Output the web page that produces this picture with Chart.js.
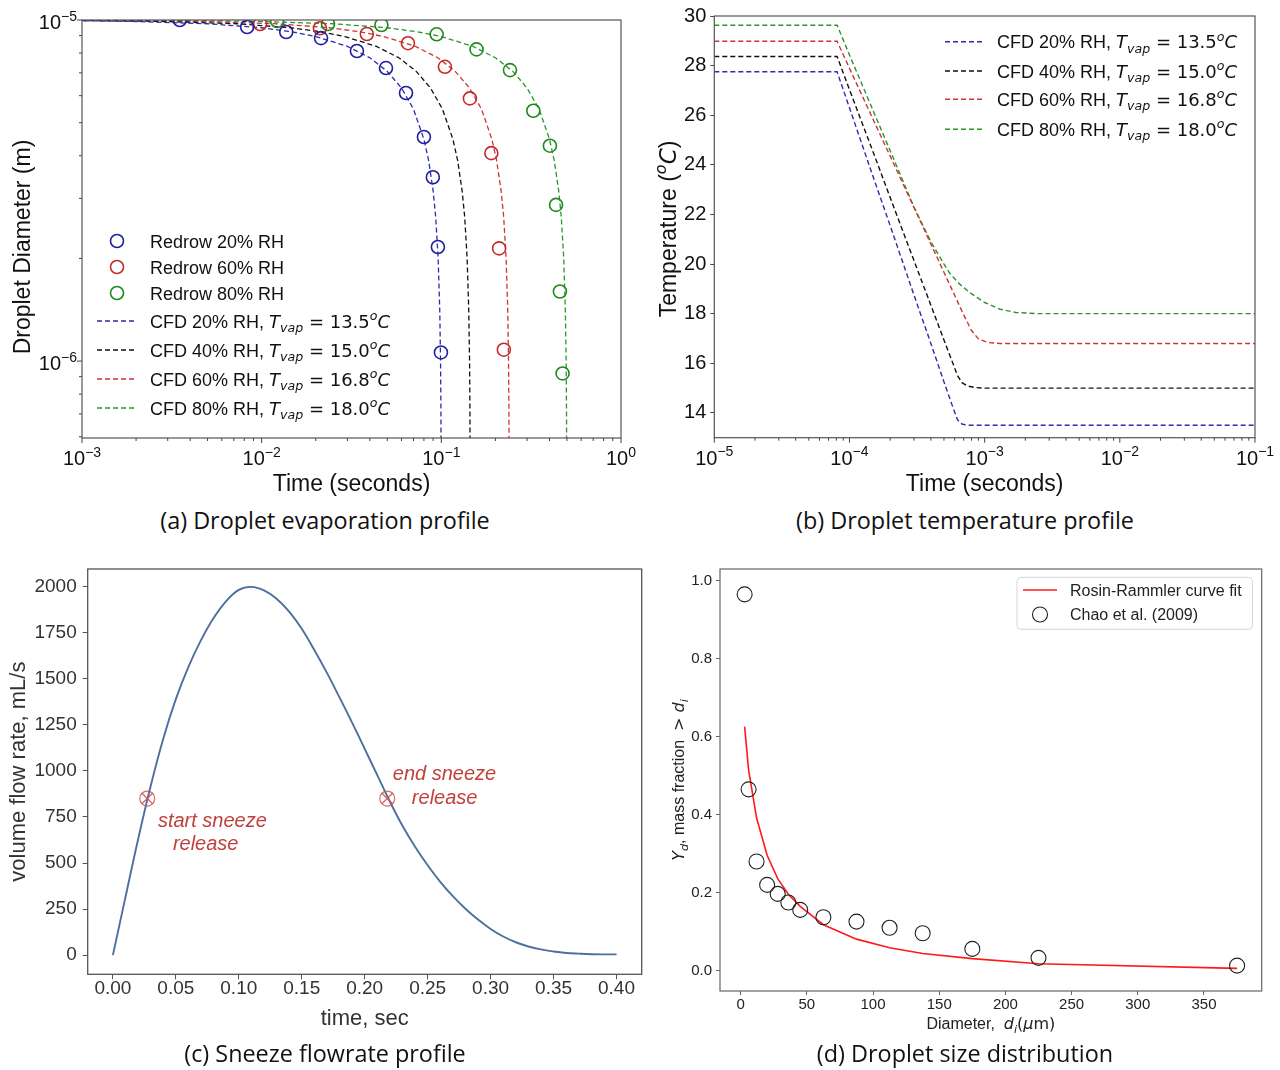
<!DOCTYPE html>
<html lang="en">
<head>
<meta charset="utf-8">
<title>Droplet evaporation, temperature, sneeze flowrate and size distribution</title>
<script src="https://cdn.jsdelivr.net/npm/chart.js@4.4.1/dist/chart.umd.min.js"></script>
<style>
  html, body { margin: 0; padding: 0; background: #ffffff; }
  body { position: relative; width: 1280px; height: 1070px; overflow: hidden; }
  canvas { position: absolute; }
  .caption { position: absolute; transform: translateX(-50%); white-space: nowrap;
             font-family: "Open Sans", Lato, sans-serif; font-size: 23.4px; line-height: 26px; color: #111; }
</style>
</head>
<body>
<canvas id="evap" width="640" height="500" style="left:0;top:0"></canvas>
<canvas id="temp" width="640" height="500" style="left:640px;top:0"></canvas>
<canvas id="flow" width="660" height="500" style="left:0;top:540px"></canvas>
<canvas id="size" width="640" height="500" style="left:640px;top:540px"></canvas>
<div class="caption" style="left:325px;top:507px">(a) Droplet evaporation profile</div>
<div class="caption" style="left:965px;top:507px">(b) Droplet temperature profile</div>
<div class="caption" style="left:325px;top:1040px">(c) Sneeze flowrate profile</div>
<div class="caption" style="left:965px;top:1040px">(d) Droplet size distribution</div>
<script>
// ---------------- (a) droplet evaporation: diameter (m) vs time (s) ----------------
const redrow20Time = [0.0035, 0.0083, 0.0137, 0.0214, 0.0339, 0.0492, 0.0636, 0.080, 0.0897, 0.0957, 0.0995];
const redrow20Diam = [1.0e-5, 9.54e-6, 9.22e-6, 8.85e-6, 8.11e-6, 7.23e-6, 6.11e-6, 4.54e-6, 3.46e-6, 2.16e-6, 1.06e-6];
const redrow60Time = [0.0098, 0.0211, 0.0385, 0.0652, 0.1047, 0.1442, 0.1898, 0.2097, 0.2228];
const redrow60Diam = [9.73e-6, 9.46e-6, 9.10e-6, 8.55e-6, 7.29e-6, 5.89e-6, 4.07e-6, 2.14e-6, 1.08e-6];
const redrow80Time = [0.0122, 0.0234, 0.0464, 0.0942, 0.157, 0.241, 0.325, 0.402, 0.435, 0.457, 0.473];
const redrow80Diam = [9.93e-6, 9.73e-6, 9.67e-6, 9.08e-6, 8.20e-6, 7.13e-6, 5.42e-6, 4.28e-6, 2.87e-6, 1.60e-6, 9.2e-7];

const cfd20Time = [0.0002, 0.001, 0.002, 0.005, 0.01, 0.015, 0.02, 0.03, 0.04, 0.05, 0.06, 0.07, 0.08, 0.085, 0.09, 0.093, 0.096, 0.098, 0.099, 0.0995, 0.0999];
const cfd20Diam = [9.99e-6, 9.95e-6, 9.90e-6, 9.75e-6, 9.49e-6, 9.22e-6, 8.94e-6, 8.37e-6, 7.75e-6, 7.07e-6, 6.32e-6, 5.48e-6, 4.47e-6, 3.87e-6, 3.16e-6, 2.65e-6, 2.00e-6, 1.41e-6, 1.00e-6, 7.1e-7, 3.2e-7];
const cfd40Time = [0.00029, 0.00145, 0.0029, 0.00725, 0.0145, 0.0218, 0.029, 0.0435, 0.058, 0.0725, 0.087, 0.1015, 0.116, 0.1233, 0.1305, 0.1349, 0.1392, 0.1421, 0.1436, 0.1443, 0.1449];
const cfd40Diam = [9.99e-6, 9.95e-6, 9.90e-6, 9.75e-6, 9.49e-6, 9.22e-6, 8.94e-6, 8.37e-6, 7.75e-6, 7.07e-6, 6.32e-6, 5.48e-6, 4.47e-6, 3.87e-6, 3.16e-6, 2.65e-6, 2.00e-6, 1.41e-6, 1.00e-6, 7.1e-7, 3.2e-7];
const cfd60Time = [0.00048, 0.0024, 0.0048, 0.012, 0.0239, 0.0359, 0.0478, 0.0717, 0.0956, 0.1195, 0.1434, 0.1673, 0.1912, 0.2032, 0.2151, 0.2223, 0.2294, 0.2342, 0.2366, 0.2378, 0.2388];
const cfd60Diam = [9.99e-6, 9.95e-6, 9.90e-6, 9.75e-6, 9.49e-6, 9.22e-6, 8.94e-6, 8.37e-6, 7.75e-6, 7.07e-6, 6.32e-6, 5.48e-6, 4.47e-6, 3.87e-6, 3.16e-6, 2.65e-6, 2.00e-6, 1.41e-6, 1.00e-6, 7.1e-7, 3.2e-7];
const cfd80Time = [0.001, 0.005, 0.01, 0.025, 0.05, 0.075, 0.1, 0.15, 0.2, 0.25, 0.3, 0.35, 0.4, 0.425, 0.45, 0.465, 0.48, 0.49, 0.495, 0.4975, 0.4995];
const cfd80Diam = [9.99e-6, 9.95e-6, 9.90e-6, 9.75e-6, 9.49e-6, 9.22e-6, 8.94e-6, 8.37e-6, 7.75e-6, 7.07e-6, 6.32e-6, 5.48e-6, 4.47e-6, 3.87e-6, 3.16e-6, 2.65e-6, 2.00e-6, 1.41e-6, 1.00e-6, 7.1e-7, 3.2e-7];

// vapour temperatures quoted in the CFD legend entries (deg C)
const cfdRH = [20, 40, 60, 80];
const cfdVapTemp = [13.5, 15.0, 16.8, 18.0];

// ---------------- (b) droplet temperature (deg C) vs time (s) ----------------
const temp20Time = [1e-5, 8.1e-5, 1.0e-4, 1.5e-4, 2e-4, 3e-4, 4e-4, 5e-4, 5.8e-4, 6.3e-4, 6.8e-4, 7.5e-4, 1e-3, 1e-2, 1e-1];
const temp20 = [27.75, 27.75, 26.3, 23.5, 21.55, 18.75, 16.8, 15.25, 14.25, 13.72, 13.55, 13.5, 13.5, 13.5, 13.5];
const temp40Time = [1e-5, 8.1e-5, 1e-4, 1.5e-4, 2e-4, 3e-4, 4e-4, 5e-4, 5.8e-4, 6.3e-4, 6.8e-4, 7.5e-4, 8.5e-4, 1e-3, 1e-2, 1e-1];
const temp40 = [28.37, 28.37, 27.03, 24.5, 22.68, 20.14, 18.34, 16.94, 16.02, 15.5, 15.22, 15.08, 15.02, 15.0, 15.0, 15.0];
const temp60Time = [1e-5, 8.1e-5, 1e-4, 1.5e-4, 2e-4, 3e-4, 4e-4, 5e-4, 6e-4, 7e-4, 8e-4, 9e-4, 1.05e-3, 1.3e-3, 1e-2, 1e-1];
const temp60 = [28.98, 28.98, 27.89, 25.82, 24.35, 22.28, 20.81, 19.67, 18.74, 17.95, 17.32, 16.98, 16.84, 16.8, 16.8, 16.8];
const temp80Time = [1e-5, 8.1e-5, 1e-4, 1.5e-4, 2e-4, 3e-4, 4e-4, 5e-4, 5.5e-4, 6.5e-4, 7.8e-4, 1e-3, 1.3e-3, 1.7e-3, 2.5e-3, 1e-2, 1e-1];
const temp80 = [29.63, 29.63, 28.43, 26.17, 24.57, 22.3, 20.9, 20.0, 19.64, 19.2, 18.84, 18.45, 18.18, 18.05, 18.0, 18.0, 18.0];
const tempTicks = [14, 16, 18, 20, 22, 24, 26, 28, 30];

// ---------------- (c) sneeze volume flow rate (mL/s) vs time (s) ----------------
const flowTime = [0, 0.01, 0.02, 0.03, 0.04, 0.05, 0.06, 0.07, 0.08, 0.09, 0.10, 0.11, 0.12, 0.13, 0.14, 0.15, 0.16, 0.17, 0.18, 0.19, 0.20,
                  0.21, 0.22, 0.23, 0.24, 0.25, 0.26, 0.27, 0.28, 0.29, 0.30, 0.31, 0.32, 0.33, 0.34, 0.35, 0.36, 0.37, 0.38, 0.39, 0.40];
const flowRate = [0, 315, 628, 918, 1175, 1390, 1565, 1710, 1830, 1922, 1983, 1999, 1980, 1935, 1865, 1772, 1656, 1532, 1399, 1262, 1120,
                  977, 834, 702, 588, 488, 398, 320, 252, 193, 142, 101, 70, 47, 31, 20, 12, 8, 5, 4, 4];
const releaseTime = [0.0273, 0.2179];
const releaseRate = [850, 850];
const flowTimeTicks = [0, 0.05, 0.10, 0.15, 0.20, 0.25, 0.30, 0.35, 0.40];
const flowRateTicks = [0, 250, 500, 750, 1000, 1250, 1500, 1750, 2000];

// ---------------- (d) droplet size distribution ----------------
const sizeDiam = [3, 6, 12, 20, 28, 36, 45, 62.5, 87.5, 112.5, 137.5, 175, 225, 375];
const chaoFraction = [0.965, 0.465, 0.280, 0.220, 0.197, 0.175, 0.156, 0.137, 0.126, 0.110, 0.096, 0.056, 0.033, 0.013];
const rosinRammlerFit = [0.626, 0.515, 0.392, 0.296, 0.236, 0.196, 0.165, 0.118, 0.081, 0.059, 0.044, 0.031, 0.018, 0.006];
const sizeDiamTicks = [0, 50, 100, 150, 200, 250, 300, 350];
const sizeFracTicks = [0, 0.2, 0.4, 0.6, 0.8, 1.0];

// ---------------- drawing helpers ----------------
const FONT = '"Liberation Sans", Arial, sans-serif';
const MATH = '"DejaVu Sans", sans-serif';

function pts(xs, ys) { return xs.map((x, i) => ({ x: x, y: ys[i] })); }

function runFont(r, size, fam) {
  const px = (r.sub || r.sup) ? size * 0.7 : size;
  return (r.it ? 'italic ' : '') + px.toFixed(1) + 'px ' + (r.fam || fam);
}
function runsWidth(ctx, runs, size, fam) {
  let w = 0;
  for (const r of runs) { ctx.font = runFont(r, size, fam); w += ctx.measureText(r.t).width; }
  return w;
}
// rich text: runs of plain / italic / subscript / superscript pieces on one baseline
function drawRuns(ctx, runs, x, y, size, fam, color, align, rot) {
  ctx.save();
  ctx.translate(x, y);
  if (rot) ctx.rotate(rot);
  const w = runsWidth(ctx, runs, size, fam);
  let cx = align === 'center' ? -w / 2 : (align === 'right' ? -w : 0);
  ctx.fillStyle = color;
  ctx.textAlign = 'left';
  ctx.textBaseline = 'alphabetic';
  for (const r of runs) {
    ctx.font = runFont(r, size, fam);
    const dy = r.sub ? size * 0.24 : (r.sup ? -size * 0.42 : 0);
    ctx.fillText(r.t, cx, dy);
    cx += ctx.measureText(r.t).width;
  }
  ctx.restore();
}
function drawFrame(ctx, ca, color, lw) {
  ctx.save();
  ctx.strokeStyle = color; ctx.lineWidth = lw;
  ctx.strokeRect(ca.left, ca.top, ca.right - ca.left, ca.bottom - ca.top);
  ctx.restore();
}
function logTickList(min, max) {
  const out = [];
  for (let e = Math.floor(Math.log10(min)); e <= Math.ceil(Math.log10(max)); e++) {
    for (let k = 1; k <= 9; k++) {
      const v = k * Math.pow(10, e);
      if (v >= min * 0.999 && v <= max * 1.001) out.push({ v: v, e: e, major: k === 1 });
    }
  }
  return out;
}
function powerRuns(e) { return [{ t: '10' }, { t: e < 0 ? '\u2212' + (-e) : String(e), sup: true }]; }

function drawLogX(ctx, scale, ca, size, color) {
  ctx.save();
  ctx.strokeStyle = '#444'; ctx.lineWidth = 1;
  for (const tk of logTickList(scale.min, scale.max)) {
    const px = scale.getPixelForValue(tk.v);
    ctx.beginPath(); ctx.moveTo(px, ca.bottom); ctx.lineTo(px, ca.bottom + (tk.major ? 5 : 3)); ctx.stroke();
    if (tk.major) drawRuns(ctx, powerRuns(tk.e), px, ca.bottom + 27, size, FONT, color, 'center');
  }
  ctx.restore();
}
function drawLogY(ctx, scale, ca, size, color) {
  ctx.save();
  ctx.strokeStyle = '#444'; ctx.lineWidth = 1;
  for (const tk of logTickList(scale.min, scale.max)) {
    const py = scale.getPixelForValue(tk.v);
    ctx.beginPath(); ctx.moveTo(ca.left - (tk.major ? 5 : 3), py); ctx.lineTo(ca.left, py); ctx.stroke();
    if (tk.major) drawRuns(ctx, powerRuns(tk.e), ca.left - 5, py + 9, size, FONT, color, 'right');
  }
  ctx.restore();
}
function cfdRuns(rh, tvap) {
  return [
    { t: 'CFD ' + rh + '% RH, ' },
    { t: 'T', it: true, fam: MATH },
    { t: 'vap', it: true, sub: true, fam: MATH },
    { t: ' = ' + tvap.toFixed(1), fam: MATH },
    { t: 'o', it: true, sup: true, fam: MATH },
    { t: 'C', it: true, fam: MATH }
  ];
}
function circleSet(label, xs, ys, color, r, lw) {
  return { label: label, data: pts(xs, ys), showLine: false, pointStyle: 'circle',
           pointRadius: r, pointBorderWidth: lw, pointBorderColor: color, borderColor: color,
           pointBackgroundColor: 'rgba(0,0,0,0)', backgroundColor: 'rgba(0,0,0,0)' };
}
function dashSet(label, xs, ys, color, lw, dash) {
  return { label: label, data: pts(xs, ys), showLine: true, pointRadius: 0, borderColor: color,
           backgroundColor: color, borderWidth: lw, borderDash: dash, fill: false, tension: 0 };
}
function hiddenAxis(type, min, max, fit) {
  return { type: type, min: min, max: max, afterFit: fit,
           ticks: { display: false }, grid: { display: false }, border: { display: false } };
}
const baseOptions = {
  responsive: false, animation: false, events: [],
  plugins: { legend: { display: false }, tooltip: { enabled: false } }
};

const lineColors = ['#2b2bb0', '#111111', '#d03434', '#2a962a'];

// ---------------- (a) ----------------
const evapDecor = {
  id: 'evapDecor',
  afterDraw(chart) {
    const { ctx, chartArea: ca, scales } = chart;
    drawFrame(ctx, ca, '#555', 1.2);
    drawLogX(ctx, scales.x, ca, 20, '#111');
    drawLogY(ctx, scales.y, ca, 20, '#111');
    drawRuns(ctx, [{ t: 'Time (seconds)' }], (ca.left + ca.right) / 2, ca.bottom + 53, 23, FONT, '#111', 'center');
    drawRuns(ctx, [{ t: 'Droplet Diameter (m)' }], 30, 247, 23, FONT, '#111', 'center', -Math.PI / 2);
    const rowY = [241, 267, 293, 321, 350, 379, 408];
    chart.data.datasets.forEach((d, i) => {
      const y = rowY[i];
      ctx.save();
      ctx.strokeStyle = d.borderColor;
      if (d.showLine) {
        ctx.lineWidth = d.borderWidth; ctx.setLineDash(d.borderDash);
        ctx.beginPath(); ctx.moveTo(97, y); ctx.lineTo(135, y); ctx.stroke();
      } else {
        ctx.lineWidth = d.pointBorderWidth;
        ctx.beginPath(); ctx.arc(117, y, d.pointRadius, 0, Math.PI * 2); ctx.stroke();
      }
      ctx.restore();
      const runs = d.showLine ? cfdRuns(d.rh, d.tvap) : [{ t: d.label }];
      drawRuns(ctx, runs, 150, y + 6.5, 18, FONT, '#111', 'left');
    });
  }
};
const cfdSets = [[cfd20Time, cfd20Diam], [cfd40Time, cfd40Diam], [cfd60Time, cfd60Diam], [cfd80Time, cfd80Diam]]
  .map((s, i) => Object.assign(dashSet('CFD ' + cfdRH[i] + '% RH', s[0], s[1], lineColors[i], 1.3, [5, 3]),
                               { rh: cfdRH[i], tvap: cfdVapTemp[i] }));
new Chart(document.getElementById('evap'), {
  type: 'scatter',
  data: { datasets: [
    circleSet('Redrow 20% RH', redrow20Time, redrow20Diam, '#1f1f9e', 6.5, 1.6),
    circleSet('Redrow 60% RH', redrow60Time, redrow60Diam, '#c42b2b', 6.5, 1.6),
    circleSet('Redrow 80% RH', redrow80Time, redrow80Diam, '#1e8a1e', 6.5, 1.6)
  ].concat(cfdSets) },
  options: Object.assign({}, baseOptions, {
    layout: { padding: { left: 0, top: 20, right: 19, bottom: 0 } },
    scales: {
      x: hiddenAxis('logarithmic', 1e-3, 1, s => { s.height = 62; }),
      y: hiddenAxis('logarithmic', 5.95e-7, 1e-5, s => { s.width = 82; })
    }
  }),
  plugins: [evapDecor]
});

// ---------------- (b) ----------------
const tempDecor = {
  id: 'tempDecor',
  afterDraw(chart) {
    const { ctx, chartArea: ca, scales } = chart;
    drawFrame(ctx, ca, '#555', 1.2);
    drawLogX(ctx, scales.x, ca, 20, '#111');
    drawRuns(ctx, [{ t: 'Time (seconds)' }], (ca.left + ca.right) / 2, ca.bottom + 53, 23, FONT, '#111', 'center');
    drawRuns(ctx, [{ t: 'Temperature (' }, { t: 'o', it: true, sup: true, fam: MATH }, { t: 'C', it: true, fam: MATH }, { t: ')' }],
             36, 229, 23, FONT, '#111', 'center', -Math.PI / 2);
    const rowY = [41.7, 71, 99.3, 129.3];
    chart.data.datasets.forEach((d, i) => {
      const y = rowY[i];
      ctx.save();
      ctx.strokeStyle = d.borderColor; ctx.lineWidth = d.borderWidth; ctx.setLineDash(d.borderDash);
      ctx.beginPath(); ctx.moveTo(305, y); ctx.lineTo(342, y); ctx.stroke();
      ctx.restore();
      drawRuns(ctx, cfdRuns(d.rh, d.tvap), 357, y + 6.5, 18, FONT, '#111', 'left');
    });
  }
};
const tempSets = [[temp20Time, temp20], [temp40Time, temp40], [temp60Time, temp60], [temp80Time, temp80]]
  .map((s, i) => Object.assign(dashSet('CFD ' + cfdRH[i] + '% RH', s[0], s[1], lineColors[i], 1.4, [5, 3]),
                               { rh: cfdRH[i], tvap: cfdVapTemp[i] }));
new Chart(document.getElementById('temp'), {
  type: 'scatter',
  data: { datasets: tempSets },
  options: Object.assign({}, baseOptions, {
    layout: { padding: { left: 0, top: 15.7, right: 25, bottom: 0 } },
    scales: {
      x: hiddenAxis('logarithmic', 1e-5, 1e-1, s => { s.height = 62.3; }),
      y: { type: 'linear', min: 13.0, max: 30,
           afterBuildTicks: ax => { ax.ticks = tempTicks.map(v => ({ value: v })); },
           afterFit: s => { s.width = 74.3; },
           ticks: { callback: v => String(v), font: { family: FONT, size: 20 }, color: '#111', padding: 4, autoSkip: false },
           grid: { display: true, drawOnChartArea: false, drawTicks: true, tickLength: 4, color: '#444', tickColor: '#444' },
           border: { display: false } }
    }
  }),
  plugins: [tempDecor]
});

// ---------------- (c) ----------------
const flowDecor = {
  id: 'flowDecor',
  afterDraw(chart) {
    const { ctx, chartArea: ca, scales } = chart;
    drawFrame(ctx, ca, '#555', 1.3);
    drawRuns(ctx, [{ t: 'time, sec' }], (ca.left + ca.right) / 2, 485, 22, FONT, '#333', 'center');
    drawRuns(ctx, [{ t: 'volume flow rate, mL/s' }], 25, (ca.top + ca.bottom) / 2, 22, FONT, '#333', 'center', -Math.PI / 2);
    const notes = [
      { t: 'start sneeze', x: 0.079, y: 733 }, { t: 'release', x: 0.0737, y: 608 },
      { t: 'end sneeze', x: 0.2634, y: 987 }, { t: 'release', x: 0.2635, y: 860 }
    ];
    for (const n of notes) {
      drawRuns(ctx, [{ t: n.t, it: true }], scales.x.getPixelForValue(n.x), scales.y.getPixelForValue(n.y) + 7, 20, FONT, '#c0403c', 'center');
    }
  }
};
new Chart(document.getElementById('flow'), {
  type: 'scatter',
  data: { datasets: [
    { label: 'sneeze release', data: pts(releaseTime, releaseRate), pointStyle: 'circle', pointRadius: 7.5,
      pointBorderWidth: 1.2, pointBorderColor: 'rgba(205,80,80,0.85)', pointBackgroundColor: 'rgba(0,0,0,0)' },
    { label: 'sneeze release cross', data: pts(releaseTime, releaseRate), pointStyle: 'crossRot', pointRadius: 7.5,
      pointBorderWidth: 1.4, pointBorderColor: 'rgba(205,80,80,0.85)', pointBackgroundColor: 'rgba(0,0,0,0)' },
    { label: 'volume flow rate', data: pts(flowTime, flowRate), showLine: true, pointRadius: 0,
      borderColor: '#4d6f9f', borderWidth: 1.9, tension: 0.4, fill: false }
  ] },
  options: Object.assign({}, baseOptions, {
    layout: { padding: { left: 0, top: 29, right: 18.3, bottom: 0 } },
    scales: {
      x: { type: 'linear', min: -0.02, max: 0.42,
           afterBuildTicks: ax => { ax.ticks = flowTimeTicks.map(v => ({ value: v })); },
           afterFit: s => { s.height = 65.7; },
           ticks: { callback: v => v.toFixed(2), font: { family: FONT, size: 19, lineHeight: 1 }, color: '#333', padding: 0, maxRotation: 0, autoSkip: false },
           grid: { display: true, drawOnChartArea: false, drawTicks: true, tickLength: 5, color: '#555', tickColor: '#555' },
           border: { display: false } },
      y: { type: 'linear', min: -104, max: 2096,
           afterBuildTicks: ax => { ax.ticks = flowRateTicks.map(v => ({ value: v })); },
           afterFit: s => { s.width = 87.7; },
           ticks: { callback: v => String(v), font: { family: FONT, size: 19 }, color: '#333', padding: 6, autoSkip: false },
           grid: { display: true, drawOnChartArea: false, drawTicks: true, tickLength: 5, color: '#555', tickColor: '#555' },
           border: { display: false } }
    }
  }),
  plugins: [flowDecor]
});

// ---------------- (d) ----------------
const sizeDecor = {
  id: 'sizeDecor',
  afterDraw(chart) {
    const { ctx, chartArea: ca } = chart;
    drawFrame(ctx, ca, '#666', 1.2);
    drawRuns(ctx, [{ t: 'Diameter,  ' }, { t: 'd', it: true, fam: MATH }, { t: 'i', it: true, sub: true, fam: MATH },
                   { t: '(', fam: MATH }, { t: '\u03bc', it: true, fam: MATH }, { t: 'm)', fam: MATH }],
             (ca.left + ca.right) / 2, 489, 16, FONT, '#222', 'center');
    drawRuns(ctx, [{ t: 'Y', it: true, fam: MATH }, { t: 'd', it: true, sub: true, fam: MATH }, { t: ', mass fraction  ' },
                   { t: '> ', fam: MATH }, { t: 'd', it: true, fam: MATH }, { t: 'i', it: true, sub: true, fam: MATH }],
             44, (ca.top + ca.bottom) / 2, 16, FONT, '#222', 'center', -Math.PI / 2);
    // legend box
    ctx.save();
    ctx.fillStyle = 'rgba(255,255,255,0.85)';
    ctx.strokeStyle = '#d6d6d6'; ctx.lineWidth = 1;
    ctx.beginPath();
    if (ctx.roundRect) ctx.roundRect(377, 37.3, 235.5, 52, 4); else ctx.rect(377, 37.3, 235.5, 52);
    ctx.fill(); ctx.stroke();
    const fit = chart.data.datasets[1], obs = chart.data.datasets[0];
    ctx.strokeStyle = fit.borderColor; ctx.lineWidth = fit.borderWidth;
    ctx.beginPath(); ctx.moveTo(383, 50); ctx.lineTo(417, 50); ctx.stroke();
    ctx.strokeStyle = obs.pointBorderColor; ctx.lineWidth = obs.pointBorderWidth;
    ctx.beginPath(); ctx.arc(400, 74.5, obs.pointRadius, 0, Math.PI * 2); ctx.stroke();
    ctx.restore();
    drawRuns(ctx, [{ t: fit.label }], 430, 55.8, 16, FONT, '#222', 'left');
    drawRuns(ctx, [{ t: obs.label }], 430, 80.3, 16, FONT, '#222', 'left');
  }
};
new Chart(document.getElementById('size'), {
  type: 'scatter',
  data: { datasets: [
    circleSet('Chao et al. (2009)', sizeDiam, chaoFraction, '#222222', 7.5, 1.1),
    dashSet('Rosin-Rammler curve fit', sizeDiam, rosinRammlerFit, '#ff1a1a', 1.6, [])
  ] },
  options: Object.assign({}, baseOptions, {
    layout: { padding: { left: 0, top: 29, right: 18.3, bottom: 0 } },
    scales: {
      x: { type: 'linear', min: -15.6, max: 393.6,
           afterBuildTicks: ax => { ax.ticks = sizeDiamTicks.map(v => ({ value: v })); },
           afterFit: s => { s.height = 49; },
           ticks: { callback: v => String(v), font: { family: FONT, size: 15, lineHeight: 1 }, color: '#222', padding: 2, maxRotation: 0, autoSkip: false },
           grid: { display: true, drawOnChartArea: false, drawTicks: true, tickLength: 4, color: '#666', tickColor: '#666' },
           border: { display: false } },
      y: { type: 'linear', min: -0.052, max: 1.03,
           afterBuildTicks: ax => { ax.ticks = sizeFracTicks.map(v => ({ value: v })); },
           afterFit: s => { s.width = 80; },
           ticks: { callback: v => v.toFixed(1), font: { family: FONT, size: 15 }, color: '#222', padding: 4, autoSkip: false },
           grid: { display: true, drawOnChartArea: false, drawTicks: true, tickLength: 4, color: '#666', tickColor: '#666' },
           border: { display: false } }
    }
  }),
  plugins: [sizeDecor]
});
</script>
</body>
</html>
